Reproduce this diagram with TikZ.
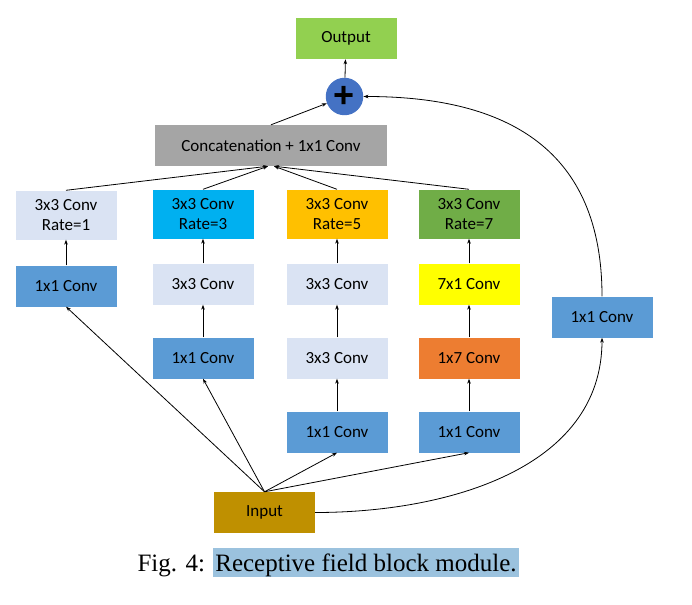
\documentclass[tikz,border=0pt]{standalone}
\usepackage{fontspec}
\setmainfont{Liberation Serif}
\newfontfamily\boxfont{Carlito}
\newfontfamily\plusfont{Liberation Sans}
\usetikzlibrary{arrows.meta}

\definecolor{lavender}{HTML}{DAE3F3}
\definecolor{skyblue}{HTML}{00B0F0}
\definecolor{gold}{HTML}{FFC000}
\definecolor{leaf}{HTML}{70AD47}
\definecolor{convblue}{HTML}{5B9BD5}
\definecolor{lemon}{HTML}{FFFF00}
\definecolor{carrot}{HTML}{ED7D31}
\definecolor{mustard}{HTML}{BF9000}
\definecolor{lime}{HTML}{92D050}
\definecolor{concatgray}{HTML}{A5A5A5}
\definecolor{sumblue}{HTML}{4472C4}
\definecolor{hilite}{RGB}{155,194,222}

\newcommand\capfont{\fontsize{25}{28}\selectfont}

\begin{document}
\begin{tikzpicture}[
  x=1pt, y=-1pt,
  box/.style={rectangle, minimum width=101pt, minimum height=41pt, inner sep=0pt,
    font=\boxfont\fontsize{17}{20}\selectfont, align=center},
  tallbox/.style={box, minimum height=49pt},
  captext/.style={font=\capfont},
  arr/.style={-{Stealth[length=5pt,width=3.6pt]}, line width=0.8pt}
  ]
  \useasboundingbox (0,0) rectangle (692,604);

  % Top
  \node[box, fill=lime] (output) at (346,38.5) {Output};
  \node[circle, fill=sumblue, minimum size=37.5pt, inner sep=0pt,
    font=\plusfont\bfseries\fontsize{36}{36}\selectfont] (sum) at (344.5,96.5) {+};
  \node[box, fill=concatgray, minimum width=232pt] (concat) at (271,145.5) {Concatenation + 1x1 Conv};

  % Branch heads
  \node[tallbox, fill=lavender] (rateA) at (66,215) {3x3 Conv\\Rate=1};
  \node[tallbox, fill=skyblue] (rateB) at (203,214) {3x3 Conv\\Rate=3};
  \node[tallbox, fill=gold] (rateC) at (337,214) {3x3 Conv\\Rate=5};
  \node[tallbox, fill=leaf] (rateD) at (469,214) {3x3 Conv\\Rate=7};

  % Branch bodies
  \node[box, fill=convblue] (aOne) at (66,286) {1x1 Conv};
  \node[box, fill=lavender] (bTwo) at (203,284) {3x3 Conv};
  \node[box, fill=convblue] (bOne) at (203,358) {1x1 Conv};
  \node[box, fill=lavender] (cThree) at (337,284) {3x3 Conv};
  \node[box, fill=lavender] (cTwo) at (337,358) {3x3 Conv};
  \node[box, fill=convblue] (cOne) at (337,432) {1x1 Conv};
  \node[box, fill=lemon] (dThree) at (469,284) {7x1 Conv};
  \node[box, fill=carrot] (dTwo) at (469,358) {1x7 Conv};
  \node[box, fill=convblue] (dOne) at (469,432) {1x1 Conv};
  \node[box, fill=convblue] (shortcut) at (602,317) {1x1 Conv};
  \node[box, fill=mustard] (input) at (264.5,512.5) {Input};

  % Caption
  \node[captext, fill=hilite, anchor=base, inner xsep=2pt, inner ysep=0pt,
    text height=24pt, text depth=5.5pt] (capbody) at (366,571.5) {Receptive field block module.};
  \node[captext, anchor=base east, inner sep=0pt]
    (capfig) at ([xshift=-8pt]capbody.base west) {Fig. 4:};

  % Arrows inside branches
  \draw[arr] (aOne) -- (rateA);
  \draw[arr] (bOne) -- (bTwo);
  \draw[arr] (bTwo) -- (rateB);
  \draw[arr] (cOne) -- (cTwo);
  \draw[arr] (cTwo) -- (cThree);
  \draw[arr] (cThree) -- (rateC);
  \draw[arr] (dOne) -- (dTwo);
  \draw[arr] (dTwo) -- (dThree);
  \draw[arr] (dThree) -- (rateD);

  % Input fan out
  \draw[arr] (input.north) -- (aOne.south);
  \draw[arr] (input.north) -- (bOne.south);
  \draw[arr] (input.north) -- (cOne.south);
  \draw[arr] (input.north) -- (dOne.south);

  % Merge
  \draw[arr] (rateA.north) -- ([xshift=-3pt]concat.south);
  \draw[arr] (rateB.north) -- ([xshift=-3pt]concat.south);
  \draw[arr] (rateC.north) -- ([xshift=3pt]concat.south);
  \draw[arr] (rateD.north) -- ([xshift=3pt]concat.south);
  \draw[arr] (concat.north) -- (sum);
  \draw[arr] (sum) -- (output);

  % Shortcut
  \draw[arr] (input.east) to[out=0, in=270] (shortcut.south);
  \draw[arr] (shortcut.north) to[out=90, in=0, looseness=1.2] (sum.east);
\end{tikzpicture}
\end{document}
